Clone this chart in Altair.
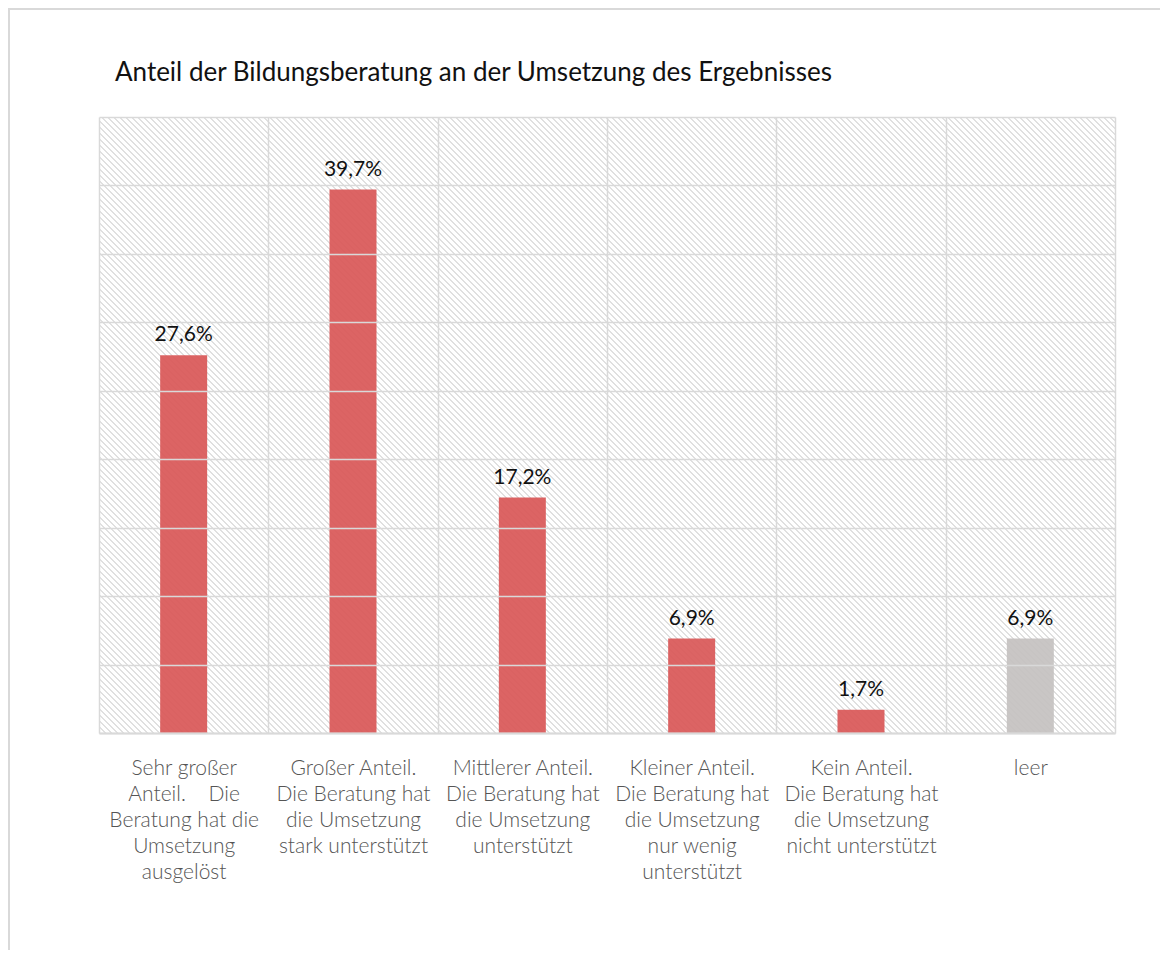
import altair as alt
import pandas as pd

# ---- data ----
categories = [
    "Sehr großer|Anteil.\u00a0\u00a0\u00a0 Die|Beratung hat die|Umsetzung|ausgelöst",
    "Großer Anteil.|Die Beratung hat|die Umsetzung|stark unterstützt",
    "Mittlerer Anteil.|Die Beratung hat|die Umsetzung|unterstützt",
    "Kleiner Anteil.|Die Beratung hat|die Umsetzung|nur wenig|unterstützt",
    "Kein Anteil.|Die Beratung hat|die Umsetzung|nicht unterstützt",
    "leer",
]
values = [27.6, 39.7, 17.2, 6.9, 1.7, 6.9]
y_ticks = [0, 5, 10, 15, 20, 25, 30, 35, 40, 45]
title_text = ["Anteil der Bildungsberatung an der Umsetzung des Ergebnisses"]

df = pd.DataFrame({"cat": categories, "val": values})

# ---- layout / style ----
W, H = 1016, 616
FONT = "Lato"
RED = "#d95757"
GREY = "#c4c1c0"
LINE = "#d9d9d9"

# hatch pattern: diagonal stripes via a hard-stop linear gradient
period = 6.0
half = 1.0
span = W + H
stops = []
clear = "rgba(224,224,224,0)"
hatch = "#e0e0e0"
i = 0
while True:
    c = i * period + 0.5
    a = (c - half) / span
    b = (c + half) / span
    if a > 1:
        break
    a = max(a, 0.0)
    b = min(b, 1.0)
    stops += [
        {"offset": a, "color": clear},
        {"offset": a, "color": hatch},
        {"offset": b, "color": hatch},
        {"offset": b, "color": clear},
    ]
    i += 1
s = (W + H) * W / (W * W + H * H)
grad = alt.LinearGradient(
    gradient="linear",
    stops=stops,
    x1=0, y1=1, x2=s, y2=1 - s * H / W,
)

frame = alt.Chart(pd.DataFrame({"k": [0]})).mark_rect(
    fill="white", stroke=LINE, strokeWidth=2, clip=False
).encode(
    x=alt.value(-90), x2=alt.value(W + 80),
    y=alt.value(-108), y2=alt.value(H + 260),
)

title = alt.Chart(pd.DataFrame({"t": title_text})).mark_text(
    align="left", baseline="middle", font=FONT, fontSize=26, color="#111111"
).encode(x=alt.value(16), y=alt.value(-44), text="t:N")

bg = alt.Chart(pd.DataFrame({"k": [0]})).mark_rect(fill=grad).encode(
    x=alt.value(0), x2=alt.value(W), y=alt.value(0), y2=alt.value(H)
)

xenc = alt.X(
    "cat:N",
    sort=categories,
    scale=alt.Scale(paddingInner=0, paddingOuter=0),
    axis=alt.Axis(
        title=None,
        labelExpr="split(datum.label, '|')",
        labelAngle=0,
        labelFont=FONT,
        labelFontSize=21,
        labelFontWeight=300,
        labelColor="#555555",
        labelLineHeight=26,
        labelPadding=24,
        labelBaseline="top",
        labelLimit=0,
        ticks=False,
        domainColor=LINE,
        domainWidth=2,
        grid=True,
        gridColor=LINE,
        gridWidth=1.5,
        tickBand="extent",
        zindex=1,
    ),
)
yenc = alt.Y(
    "val:Q",
    scale=alt.Scale(domain=[0, 45], nice=False),
    axis=alt.Axis(
        title=None,
        values=y_ticks,
        labels=False,
        ticks=False,
        domain=False,
        grid=True,
        gridColor=LINE,
        gridWidth=1.5,
        zindex=1,
    ),
)

bars = alt.Chart(df).mark_bar(size=47, opacity=0.92).encode(
    x=xenc,
    y=yenc,
    color=alt.condition(alt.datum.cat == "leer", alt.value(GREY), alt.value(RED)),
)

labels = alt.Chart(df).transform_calculate(
    lab="replace(format(datum.val, '.1f'), '.', ',') + '%'"
).mark_text(
    baseline="alphabetic", dy=-14, font=FONT, fontSize=21, fontWeight="normal",
    color="#111111"
).encode(
    x=alt.X("cat:N", sort=categories),
    y=alt.Y("val:Q"),
    text="lab:N",
)

chart = alt.layer(frame, title, bg, bars, labels).properties(
    width=W,
    height=H,
    padding={"left": 91, "top": 109, "right": 45, "bottom": 217},
    autosize=alt.AutoSizeParams(type="none"),
).configure_view(stroke=LINE, strokeWidth=2)

chart.save("out.html", embed_options={"renderer": "svg", "actions": False})
